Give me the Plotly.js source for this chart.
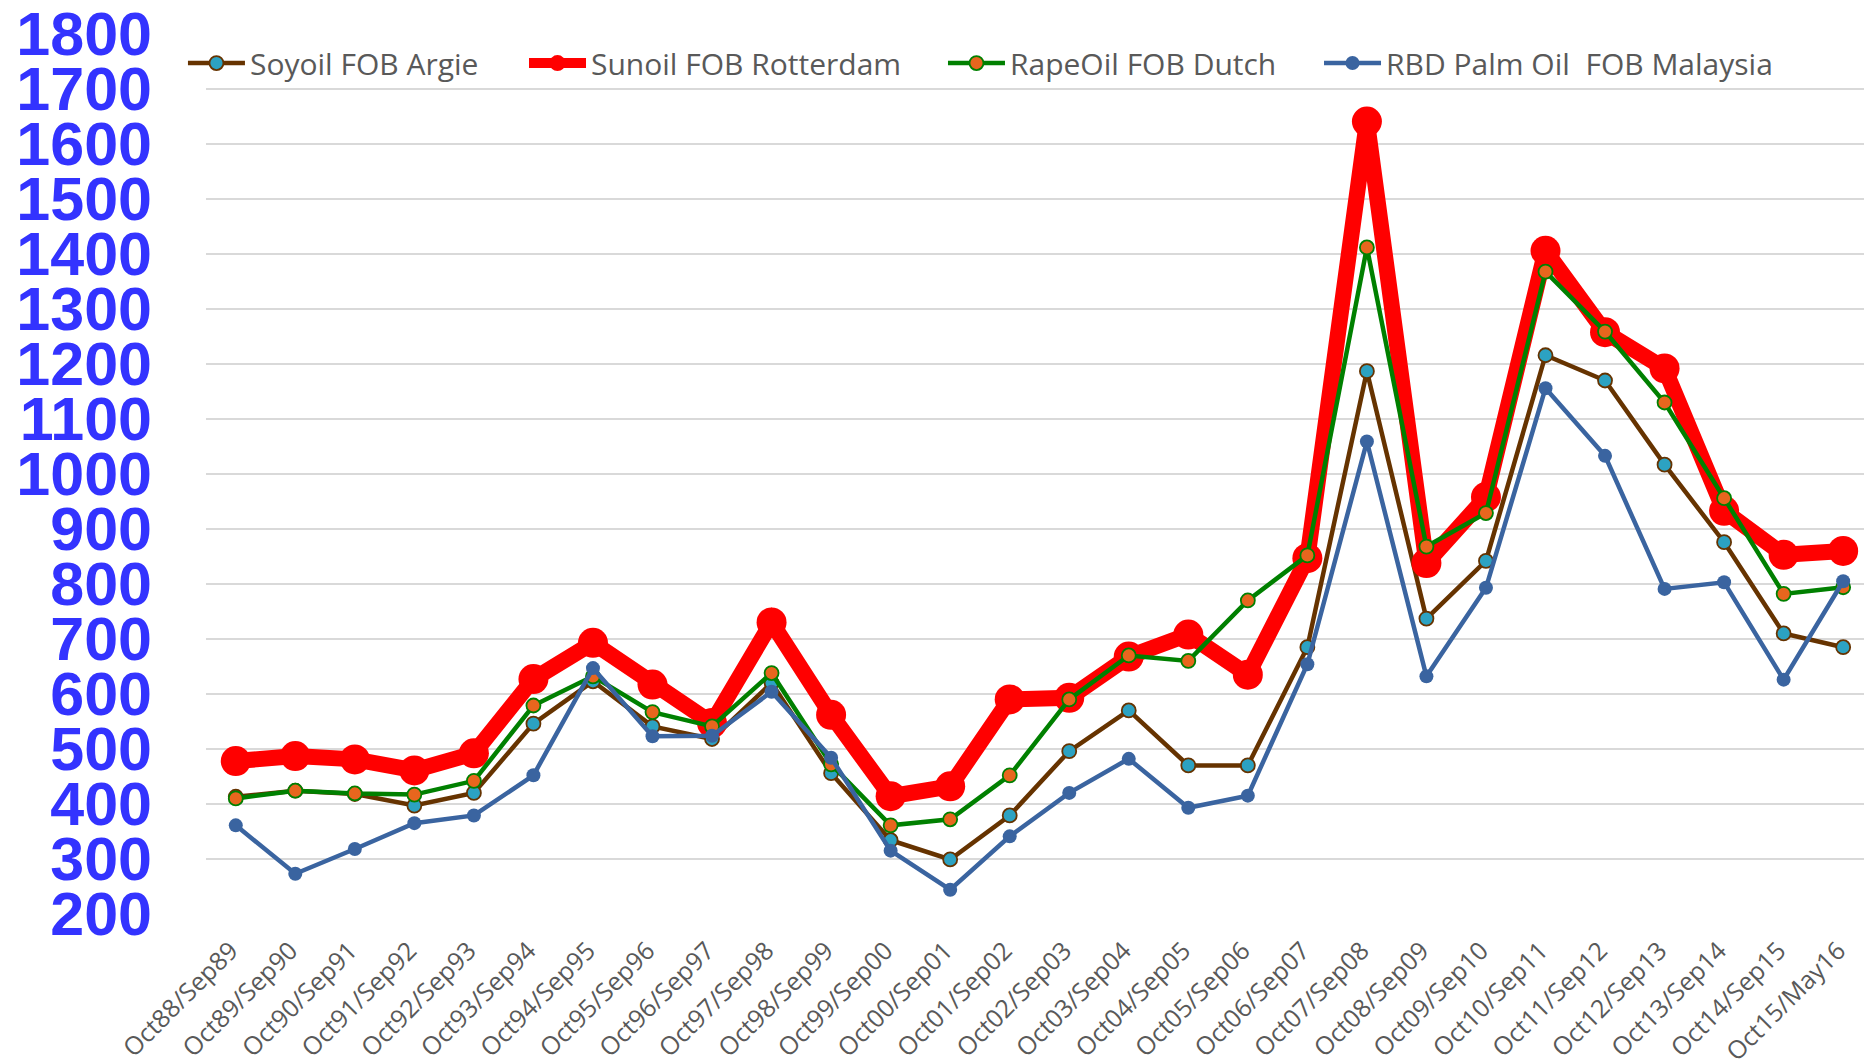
<!DOCTYPE html>
<html>
<head>
<meta charset="utf-8">
<script src="https://cdn.plot.ly/plotly-3.0.1.min.js"></script>
<style>html,body{margin:0;padding:0;background:#fff;}#chart{width:1864px;height:1062px;}</style>
</head>
<body>
<div id="chart"></div>
<script>
const categories = ["Oct88/Sep89","Oct89/Sep90","Oct90/Sep91","Oct91/Sep92","Oct92/Sep93","Oct93/Sep94","Oct94/Sep95","Oct95/Sep96","Oct96/Sep97","Oct97/Sep98","Oct98/Sep99","Oct99/Sep00","Oct00/Sep01","Oct01/Sep02","Oct02/Sep03","Oct03/Sep04","Oct04/Sep05","Oct05/Sep06","Oct06/Sep07","Oct07/Sep08","Oct08/Sep09","Oct09/Sep10","Oct10/Sep11","Oct11/Sep12","Oct12/Sep13","Oct13/Sep14","Oct14/Sep15","Oct15/May16"];
const soyoil = [413,424,418,397,420,546,623,541,518,620,456,334,299,379,496,570,470,470,685,1187,737,842,1216,1170,1017,876,710,685];
const sunoil = [478,487,481,461,492,627,693,617,547,730,562,414,432,590,593,668,708,635,847,1641,838,958,1406,1258,1192,933,853,860];
const rapeoil = [410,424,419,417,442,579,632,567,541,638,472,361,372,452,590,670,660,770,852,1412,868,929,1368,1259,1130,956,782,794];
const palmoil = [361,273,318,365,379,452,647,523,524,604,484,315,244,341,420,482,393,415,654,1059,632,793,1156,1033,791,803,626,805];
const seriesNames = ["Soyoil FOB Argie","Sunoil FOB Rotterdam","RapeOil FOB Dutch","RBD Palm Oil \u00a0FOB Malaysia"];

const traces = [
  {x: categories, y: soyoil, name: seriesNames[0], type: 'scatter', mode: 'lines+markers', legend: 'legend',
   line: {color: '#663300', width: 4.5}, marker: {size: 14, color: '#2CA2C2', line: {color: '#663300', width: 1.8}}},
  {x: categories, y: sunoil, name: seriesNames[1], type: 'scatter', mode: 'lines+markers', legend: 'legend2',
   line: {color: '#FF0000', width: 16}, marker: {size: 30, color: '#FF0000'}},
  {x: categories, y: rapeoil, name: seriesNames[2], type: 'scatter', mode: 'lines+markers', legend: 'legend3',
   line: {color: '#008000', width: 4.5}, marker: {size: 14, color: '#E8661E', line: {color: '#008000', width: 1.8}}},
  {x: categories, y: palmoil, name: seriesNames[3], type: 'scatter', mode: 'lines+markers', legend: 'legend4',
   line: {color: '#3A64A0', width: 4.5}, marker: {size: 14, color: '#3A64A0'}}
];

const legendFont = {family: 'Open Sans', size: 30, color: '#595959'};
function mkLegend(x) {
  return {x: x, y: 0.967, xanchor: 'left', yanchor: 'middle', orientation: 'h',
          bgcolor: 'rgba(0,0,0,0)', borderwidth: 0, font: legendFont, itemwidth: 57};
}

const layout = {
  width: 1864, height: 1062,
  margin: {l: 206, r: 0, t: 34, b: 148},
  paper_bgcolor: '#ffffff', plot_bgcolor: '#ffffff',
  showlegend: true,
  legend: mkLegend(-0.0139),
  legend2: mkLegend(0.1918),
  legend3: mkLegend(0.4445),
  legend4: mkLegend(0.6713),
  xaxis: {
    type: 'category', range: [-0.5, 27.35], tickangle: -45,
    tickfont: {family: 'Open Sans', size: 25, color: '#595959'},
    showgrid: false, zeroline: false, showline: false, ticks: '', ticklabelstandoff: 16,
    ticklabelshift: -5, fixedrange: true
  },
  yaxis: {
    range: [199.8, 1800.2], dtick: 100, tick0: 200,
    tickfont: {family: 'Liberation Sans', size: 61, color: '#3333FF', weight: 'bold'},
    gridcolor: '#D9D9D9', gridwidth: 2, zeroline: false, showline: false,
    ticks: '', ticklabelstandoff: 53, fixedrange: true
  }
};

Plotly.newPlot('chart', traces, layout, {displayModeBar: false, staticPlot: true});
</script>
</body>
</html>
